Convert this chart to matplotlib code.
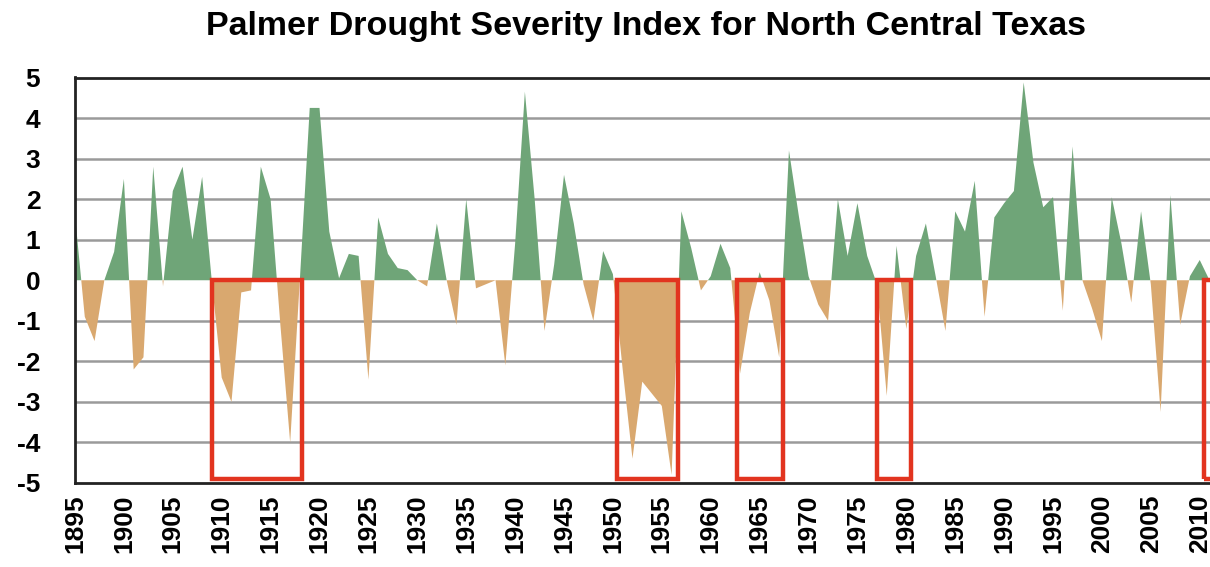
import matplotlib
matplotlib.use("Agg")
import matplotlib.pyplot as plt
from matplotlib.patches import Rectangle
import numpy as np

plt.rcParams['font.family'] = ['Liberation Sans', 'DejaVu Sans']
plt.rcParams['axes.unicode_minus'] = False

years = list(range(1895, 2012))
pdsi = [
    1.6, -0.9, -1.5, 0.0, 0.7, 2.5, -2.2, -1.9, 2.8, -0.15,      # 1895-1904
    2.2, 2.8, 1.0, 2.55, -0.05, -2.4, -3.0, -0.3, -0.25, 2.8,    # 1905-1914
    2.0, -1.1, -4.0, 0.05, 4.25, 4.25, 1.2, 0.05, 0.65, 0.6,     # 1915-1924
    -2.45, 1.55, 0.65, 0.3, 0.25, 0.0, -0.15, 1.4, 0.0, -1.1,    # 1925-1934
    2.0, -0.2, -0.1, 0.0, -2.1, 0.9, 4.65, 2.0, -1.25, 0.4,      # 1935-1944
    2.6, 1.4, -0.1, -1.0, 0.72, 0.15, -2.2, -4.4, -2.5, -2.8,    # 1945-1954
    -3.1, -4.8, 1.7, 0.8, -0.25, 0.1, 0.9, 0.3, -2.3, -0.8,      # 1955-1964
    0.2, -0.5, -1.9, 3.2, 1.6, 0.1, -0.6, -1.0, 2.0, 0.6,        # 1965-1974
    1.9, 0.6, -0.1, -2.85, 0.85, -1.2, 0.6, 1.4, 0.1, -1.25,     # 1975-1984
    1.7, 1.2, 2.45, -0.9, 1.55, 1.9, 2.2, 4.88, 2.9, 1.8,        # 1985-1994
    2.05, -0.75, 3.3, 0.0, -0.7, -1.5, 2.05, 0.9, -0.55, 1.7,    # 1995-2004
    -0.1, -3.25, 2.1, -1.1, 0.1, 0.5, 0.0,                       # 2005-2011
]

drought_starts = [1908.98, 1950.4, 1962.65, 1977.04, 2010.47]
drought_ends = [1918.2, 1956.7, 1967.35, 1980.45, 2014.0]

xtick_years = list(range(1895, 2011, 5))
ytick_vals = list(range(-5, 6))

title = "Palmer Drought Severity Index for North Central Texas"

W, H = 1210, 567
fig = plt.figure(figsize=(W / 100, H / 100), dpi=100)
ax = fig.add_axes([75 / W, (H - 483) / H, (1210 - 75) / W, (483 - 77.5) / H])

x = np.array(years, dtype=float)
y = np.array(pdsi, dtype=float)

green = '#6fa578'
tan = '#d9a86f'
ax.fill_between(x, 0, y, where=y >= 0, interpolate=True, color=green, lw=0, zorder=2)
ax.fill_between(x, 0, y, where=y <= 0, interpolate=True, color=tan, lw=0, zorder=2)

for v in range(-4, 5):
    if v == 0:
        continue
    ax.axhline(v, color='#9a9a9a', lw=1.8, zorder=1)

for s, e in zip(drought_starts, drought_ends):
    ax.add_patch(Rectangle((s, -4.9), e - s, 4.9, fill=False,
                           edgecolor='#e2341f', lw=3.2, zorder=4, clip_on=True))

ax.set_xlim(1895, 2011.05)
ax.set_ylim(-5, 5)

for side in ['top', 'left', 'bottom']:
    ax.spines[side].set_color('#222222')
    ax.spines[side].set_linewidth(2)
ax.spines['right'].set_visible(False)

ax.set_yticks(ytick_vals)
ax.set_yticklabels([str(v) for v in ytick_vals], fontsize=19, fontweight='bold')
ax.set_xticks(xtick_years)
ax.set_xticklabels([str(v) for v in xtick_years], rotation=90, fontsize=19,
                   fontweight='bold')
ax.tick_params(axis='y', length=0, pad=25)
ax.tick_params(axis='x', length=0, pad=8)

fig.text(646 / W, 1 - 27 / H, title, ha='center', va='center',
         fontsize=24.5, fontweight='bold')

fig.savefig('out.png', dpi=100)
